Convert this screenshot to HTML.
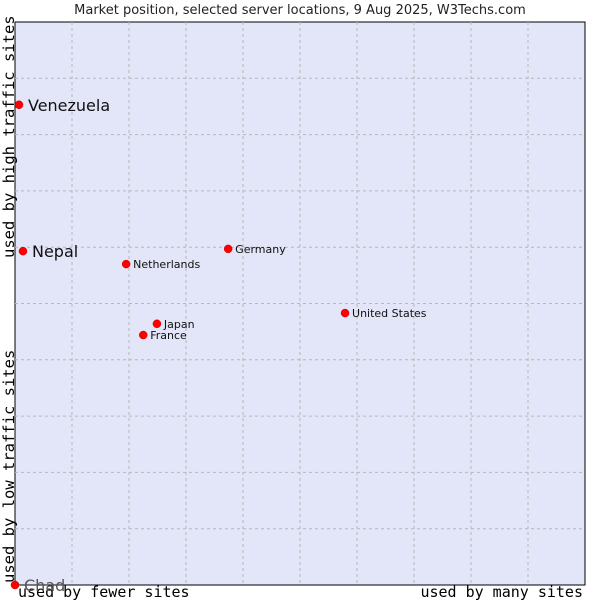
<!DOCTYPE html>
<html><head><meta charset="utf-8"><style>
body{margin:0;background:#fff;width:600px;height:600px;overflow:hidden}
svg text{font-family:"DejaVu Sans","Liberation Sans",sans-serif}
.mono{font-family:"DejaVu Sans Mono","Liberation Mono",monospace}
</style></head><body>
<svg id="chart" width="600" height="600">
<text x="300" y="14" text-anchor="middle" font-size="13" fill="#222">Market position, selected server locations, 9 Aug 2025, W3Techs.com</text>
<rect x="15" y="22" width="570" height="563" fill="#e3e5f8" stroke="#000" stroke-width="1"/>
<g id="grid"></g>
<text class="mono" x="18" y="597" font-size="15" fill="#000">used by fewer sites</text>
<text class="mono" x="583" y="597" font-size="15" fill="#000" text-anchor="end">used by many sites</text>
<text class="mono" transform="translate(14,583) rotate(-90)" font-size="15.5" fill="#000">used by low traffic sites</text>
<text class="mono" transform="translate(14,258) rotate(-90)" font-size="15.5" fill="#000">used by high traffic sites</text>
<g id="points"></g>
</svg>
<script>
const countries=["Venezuela","Nepal","Netherlands","Germany","United States","Japan","France","Chad"];
const xValues=[0.7,1.4,19.5,37.4,57.9,24.9,22.5,0];
const yValues=[85.3,59.3,57.0,59.7,48.3,46.4,44.4,0];
const labelBig=[true,true,false,false,false,false,false,true];
const L=15,T=22,W=570,H=563;
const sx=v=>L+v/100*W, sy=v=>T+H-v/100*H;
const NS="http://www.w3.org/2000/svg";
const grid=document.getElementById('grid');
for(let i=1;i<10;i++){
  const a=document.createElementNS(NS,'line');
  
  
  a.setAttribute('x1',sx(i*10));a.setAttribute('x2',sx(i*10));a.setAttribute('y1',T);a.setAttribute('y2',T+H);
  a.setAttribute('stroke','#b8b8b8');a.setAttribute('stroke-dasharray','3,3');grid.appendChild(a);
  const b=document.createElementNS(NS,'line');
  
  
  b.setAttribute('y1',sy(i*10));b.setAttribute('y2',sy(i*10));b.setAttribute('x1',L);b.setAttribute('x2',L+W);
  b.setAttribute('stroke','#b8b8b8');b.setAttribute('stroke-dasharray','3,3');grid.appendChild(b);
}
const g=document.getElementById('points');
countries.forEach((c,i)=>{
  const x=sx(xValues[i]),y=sy(yValues[i]);
  const p=document.createElementNS(NS,'circle');
  
  
  p.setAttribute('cx',x);p.setAttribute('cy',y);p.setAttribute('r',4);p.setAttribute('fill','#ff0000');p.setAttribute('stroke','#c00');p.setAttribute('stroke-width','0.5');
  g.appendChild(p);
  const t=document.createElementNS(NS,'text');
  
  
  t.setAttribute('x',x+(labelBig[i]?9:7));t.setAttribute('y',y+(labelBig[i]?6:4));
  t.setAttribute('font-size',labelBig[i]?16:11);
  t.setAttribute('fill',c==="Chad"?'#555':'#111');
  t.textContent=c;g.appendChild(t);
});
</script>
</body></html>
